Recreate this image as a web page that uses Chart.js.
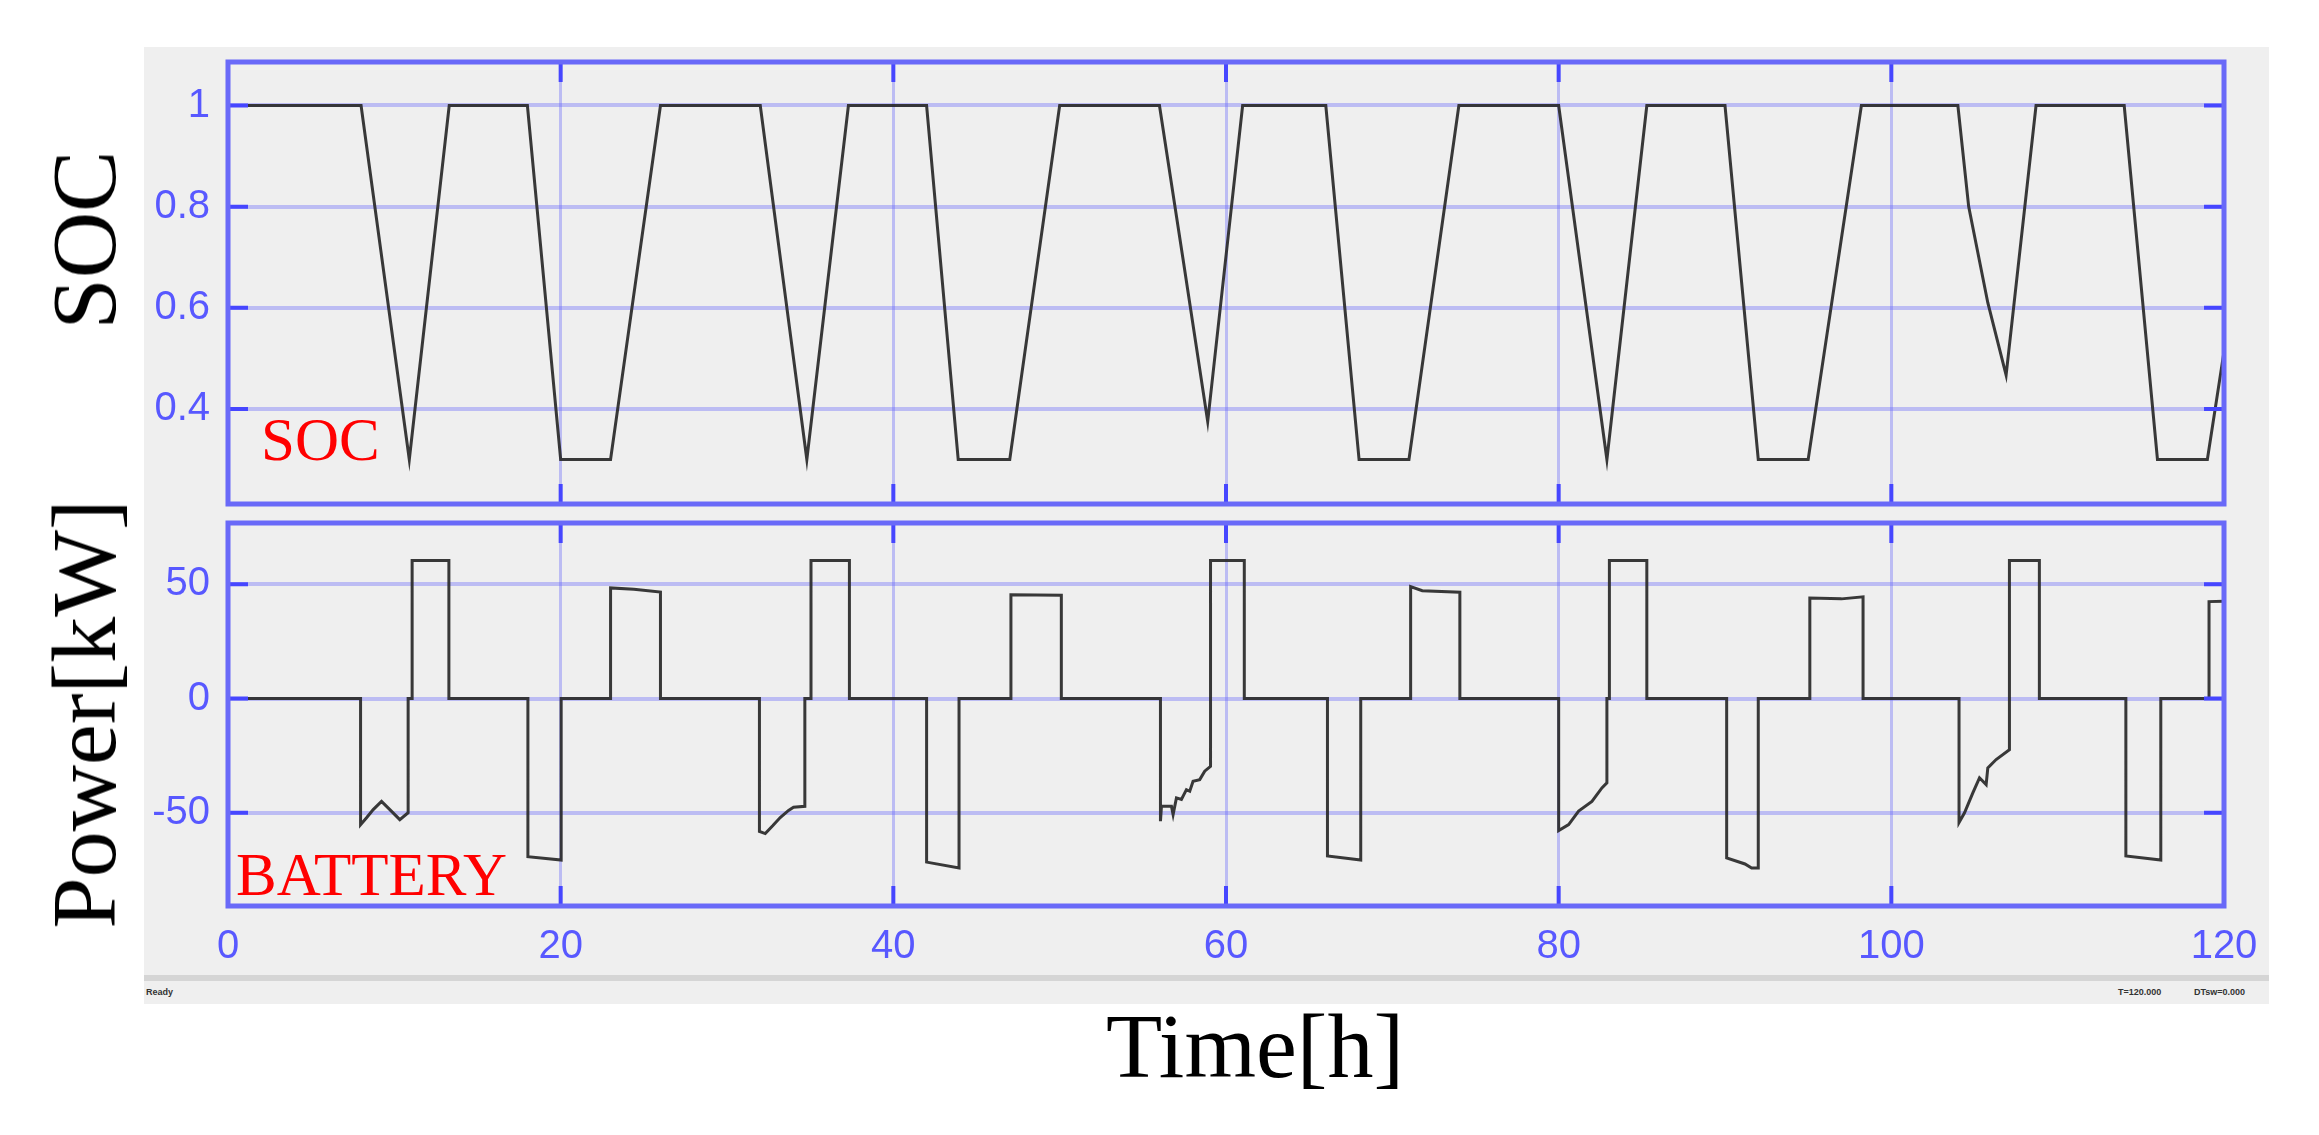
<!DOCTYPE html>
<html>
<head>
<meta charset="utf-8">
<title>SOC / BATTERY</title>
<script src="https://cdn.jsdelivr.net/npm/chart.js@4.4.1/dist/chart.umd.min.js"></script>
<style>
  html, body { margin: 0; padding: 0; background: #fff; }
  #page { position: relative; width: 2319px; height: 1135px; overflow: hidden; }
  #panel { position: absolute; left: 144px; top: 47px; width: 2125px; height: 957px; background: #efefef; }
  #statusLine { position: absolute; left: 144px; top: 975px; width: 2125px; height: 6px; background: #d5d5d5; }
  .status { position: absolute; top: 987px; font: bold 9px 'Liberation Sans', sans-serif; color: #333; }
  canvas { position: absolute; left: 0; top: 0; }
  .title { position: absolute; font-family: 'Liberation Serif', serif; font-size: 92px; line-height: 92px; color: #000; white-space: nowrap; }
  .rot { transform: translate(-50%, -50%) rotate(-90deg); }
  .tag { position: absolute; font-family: 'Liberation Serif', serif; font-size: 61px; line-height: 61px; color: #f00; white-space: nowrap; }
</style>
</head>
<body>
<div id="page">
  <div id="panel"></div>
  <div id="statusLine"></div>
  <div class="status" style="left:146px">Ready</div>
  <div class="status" style="left:2118px">T=120.000</div>
  <div class="status" style="left:2194px">DTsw=0.000</div>

  <canvas id="socChart" width="2319" height="1135"></canvas>
  <canvas id="powerChart" width="2319" height="1135"></canvas>

  <div class="title rot" style="left:84px; top:240px">SOC</div>
  <div class="title rot" style="left:84px; top:714px">Power[kW]</div>
  <div class="title" style="left:1255px; top:1000px; transform:translateX(-50%)">Time[h]</div>
  <div class="tag" style="left:261px; top:409px">SOC</div>
  <div class="tag" style="left:236px; top:844px">BATTERY</div>
</div>

<script>
/* tick labels */
var timeTicks = [0, 20, 40, 60, 80, 100, 120];
var socTicks = [0.4, 0.6, 0.8, 1];
var powerTicks = [-50, 0, 50];

/* state of charge */
var socTime = [0, 8, 10.9, 13.3, 18, 20, 23, 26, 32, 34.8, 37.3, 42, 43.9, 47, 50,
               56, 57.4, 58.9, 61, 66, 68, 71, 74, 80, 82.9, 85.3, 90, 92, 95, 98.2,
               104, 104.65, 105.8, 106.9, 108.7, 114, 116, 119, 120];
var socValue = [1, 1, 0.3, 1, 1, 0.3, 0.3, 1, 1, 0.3, 1, 1, 0.3, 0.3, 1,
                1, 0.7, 0.375, 1, 1, 0.3, 0.3, 1, 1, 0.3, 1, 1, 0.3, 0.3, 1,
                1, 0.8, 0.61, 0.467, 1, 1, 0.3, 0.3, 0.513];

/* battery power [kW] */
var powerTime = [0, 7.97, 7.97, 8.33, 8.73, 9.23, 9.73, 10.33, 10.83, 10.83, 11.07, 11.07, 13.28, 13.28,
                 18.03, 18.03, 20.03, 20.03, 23, 23, 24.4, 26, 26,
                 31.95, 31.95, 32.3, 32.76, 33.2, 33.7, 34, 34.68, 34.68, 35.05, 35.05, 37.36, 37.36,
                 42, 42, 43.95, 43.95, 47.07, 47.07, 50.1, 50.1,
                 56.06, 56.06, 56.12, 56.72, 56.82, 57.02, 57.32, 57.62, 57.82, 58.02, 58.42, 58.72, 59.07, 59.07, 61.1, 61.1,
                 66.1, 66.1, 68.1, 68.1, 71.1, 71.1, 71.8, 74.06, 74.06,
                 80, 80, 80.6, 81.2, 82, 82.6, 82.9, 82.9, 83.05, 83.05, 85.3, 85.3,
                 90.1, 90.1, 91.2, 91.6, 92, 92, 95.1, 95.1, 97, 98.3, 98.3,
                 104.07, 104.07, 104.4, 104.9, 105.3, 105.7, 105.8, 106.3, 107.1, 107.1, 108.9, 108.9,
                 114.1, 114.1, 116.2, 116.2, 119.1, 119.1, 120];
var powerValue = [0, 0, -55.2, -52.2, -48.6, -45, -48.6, -53, -50, 0, 0, 60.4, 60.4, 0,
                  0, -69.2, -70.7, 0, 0, 48.4, 47.8, 46.6, 0,
                  0, -58.2, -59.1, -55.6, -52.1, -49, -47.6, -47.2, 0, 0, 60.4, 60.4, 0,
                  0, -71.6, -74.2, 0, 0, 45.4, 45.2, 0,
                  0, -53.7, -47.1, -47.1, -50.8, -43.5, -44.2, -39.9, -40.6, -36.2, -35.5, -31.8, -29.7, 60.4, 60.4, 0,
                  0, -68.9, -70.7, 0, 0, 49, 47.2, 46.5, 0,
                  0, -57.8, -55.2, -49.3, -45, -39.1, -36.9, 0, 0, 60.4, 60.4, 0,
                  0, -69.8, -72.4, -74.2, -74.2, 0, 0, 44, 43.6, 44.5, 0,
                  0, -54.3, -50, -41.3, -34.7, -37.7, -30.4, -26.7, -22.4, 60.4, 60.4, 0,
                  0, -68.9, -70.7, 0, 0, 42.4, 42.6];

var LABEL_BLUE = 'rgb(88, 88, 255)';
var GRID_BLUE = 'rgba(105, 105, 250, 0.38)';
var BOX_BLUE = 'rgb(105, 105, 248)';
var TICK_BLUE = 'rgb(70, 70, 255)';
var TRACE = 'rgba(40, 40, 40, 0.92)';

function points(xs, ys) {
    return xs.map(function (x, i) { return { x: x, y: ys[i] }; });
}

/* box round the plot area plus short inward ticks */
var framePlugin = {
    id: 'frame',
    afterDatasetsDraw: function (chart) {
        var ctx = chart.ctx, a = chart.chartArea;
        var xs = chart.scales.x, ys = chart.scales.y;
        ctx.save();
        ctx.strokeStyle = TICK_BLUE;
        ctx.lineWidth = 4;
        ctx.beginPath();
        xs.ticks.forEach(function (t) {
            var px = xs.getPixelForValue(t.value);
            ctx.moveTo(px, a.top); ctx.lineTo(px, a.top + 20);
            ctx.moveTo(px, a.bottom); ctx.lineTo(px, a.bottom - 20);
        });
        ys.ticks.forEach(function (t) {
            var py = ys.getPixelForValue(t.value);
            ctx.moveTo(a.left, py); ctx.lineTo(a.left + 20, py);
            ctx.moveTo(a.right, py); ctx.lineTo(a.right - 20, py);
        });
        ctx.stroke();
        ctx.strokeStyle = BOX_BLUE;
        ctx.lineWidth = 5;
        ctx.strokeRect(a.left, a.top, a.right - a.left, a.bottom - a.top);
        ctx.restore();
    }
};

function xAxis(showLabels) {
    return {
        type: 'linear', min: 0, max: 120,
        afterBuildTicks: function (s) { s.ticks = timeTicks.map(function (v) { return { value: v }; }); },
        afterFit: function (s) { s.height = showLabels ? 74 : 0; },
        grid: { color: GRID_BLUE, lineWidth: 3, drawTicks: false },
        border: { display: false },
        ticks: {
            display: showLabels, color: LABEL_BLUE, padding: 17, maxRotation: 0, autoSkip: false,
            font: { family: 'Liberation Sans', size: 40 },
            callback: function (v) { return String(v); }
        }
    };
}

function yAxis(min, max, list) {
    return {
        type: 'linear', min: min, max: max,
        afterBuildTicks: function (s) { s.ticks = list.map(function (v) { return { value: v }; }); },
        afterFit: function (s) { s.width = 228; },
        grid: { color: GRID_BLUE, lineWidth: 4, drawTicks: false },
        border: { display: false },
        ticks: {
            color: LABEL_BLUE, padding: 18,
            font: { family: 'Liberation Sans', size: 40 },
            callback: function (v) { return String(v); }
        }
    };
}

function makeChart(id, data, padding, showTimeLabels, yMin, yMax, yList) {
    return new Chart(document.getElementById(id).getContext('2d'), {
        type: 'scatter',
        data: {
            datasets: [{
                data: data,
                showLine: true,
                borderColor: TRACE,
                borderWidth: 3,
                pointRadius: 0,
                tension: 0
            }]
        },
        options: {
            responsive: false,
            animation: false,
            events: [],
            layout: { padding: padding },
            plugins: { legend: { display: false }, tooltip: { enabled: false } },
            scales: { x: xAxis(showTimeLabels), y: yAxis(yMin, yMax, yList) }
        },
        plugins: [framePlugin]
    });
}

makeChart('socChart', points(socTime, socValue),
    { left: 0, top: 62, right: 95, bottom: 631 }, false, 0.212, 1.086, socTicks);
makeChart('powerChart', points(powerTime, powerValue),
    { left: 0, top: 523, right: 95, bottom: 155 }, true, -90.8, 76.8, powerTicks);
</script>
</body>
</html>
